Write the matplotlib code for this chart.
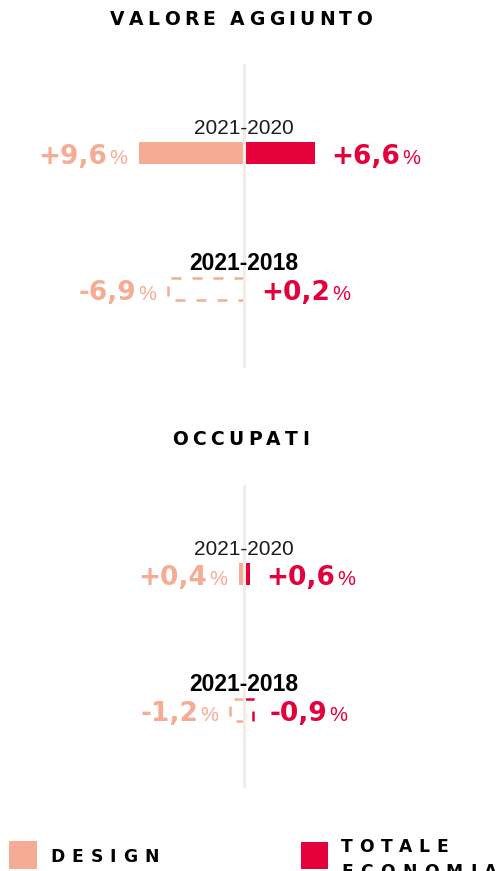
import matplotlib
matplotlib.use("Agg")
import matplotlib.pyplot as plt
from matplotlib.patches import Rectangle
from matplotlib import font_manager
from matplotlib.ft2font import FT2Font

# ---------------- data ----------------
periods = ["2021-2020", "2021-2018"]
valore_design = [9.6, -6.9]
valore_totale = [6.6, 0.2]
occupati_design = [0.4, -1.2]
occupati_totale = [0.6, -0.9]
section_titles = ["VALORE AGGIUNTO", "OCCUPATI"]
legend_labels = ["DESIGN", "TOTALE\nECONOMIA"]

# ---------------- style ----------------
C_DESIGN = "#f6ac94"
C_TOT = "#e4003a"
C_AXIS = "#f3ebe6"
FONT = "Liberation Sans"
WIDE = "DejaVu Sans"

W, H, DPI = 496, 871, 100
PX = 10.9          # pixels per percentage point
X0 = 243.5         # pixel position of zero

fig = plt.figure(figsize=(W / DPI, H / DPI), dpi=DPI)
ax = fig.add_axes([0, 0, 1, 1])
ax.set_xlim(-X0 / PX, (W - X0) / PX)
ax.set_ylim(H, 0)
ax.axis("off")
renderer = fig.canvas.get_renderer()


def xd(px):
    return (px - X0) / PX


def fontpath(family, weight):
    return font_manager.findfont(font_manager.FontProperties(family=family, weight=weight))


def spaced(s, x_left, baseline, size, target, weight="bold", color="black", family=WIDE):
    f = FT2Font(fontpath(family, weight))
    f.set_size(size, DPI)
    adv = []
    for c in s:
        g = f.load_char(ord(c))
        adv.append(g.linearHoriAdvance / 65536.0)
    n = len(s)
    track = (target - sum(adv)) / (n - 1) if n > 1 else 0
    x = x_left
    for c, a in zip(s, adv):
        if c != " ":
            ax.text(xd(x), baseline, c, fontsize=size, fontweight=weight, family=family,
                    color=color, ha="left", va="baseline")
        x += a + track


def text_width(t):
    return t.get_window_extent(renderer=renderer).width


NUM_SIZE = 19
PCT_SIZE = 14.5


def value_label(v, bar_px, side, baseline, color):
    num = f"{v:+.1f}".replace(".", ",")
    if side == "left":
        p = ax.text(xd(bar_px - 12), baseline, "%", fontsize=PCT_SIZE, family=FONT,
                    color=color, ha="right", va="baseline")
        pw = text_width(p)
        ax.text(xd(bar_px - 12 - pw - 2), baseline, num, fontsize=NUM_SIZE, fontweight="bold",
                family=WIDE, color=color, ha="right", va="baseline")
    else:
        t = ax.text(xd(bar_px + 16), baseline, num, fontsize=NUM_SIZE, fontweight="bold",
                    family=WIDE, color=color, ha="left", va="baseline")
        tw = text_width(t)
        ax.text(xd(bar_px + 16 + tw + 2), baseline, "%", fontsize=PCT_SIZE, family=FONT,
                color=color, ha="left", va="baseline")


DASH = (0, (4, 4.4))


def draw_pair(yc, d, t, period, period_base, bold_period):
    h = 22
    # design bar (always to the left)
    if d >= 0:
        ax.barh(yc, -abs(d), left=0, height=h, color=C_DESIGN, zorder=2)
    else:
        ax.barh(yc, -abs(d), left=0, height=h, fill=False, edgecolor=C_DESIGN,
                linewidth=1.8, linestyle=DASH, zorder=2)
    # totale bar (always to the right)
    if t >= 0:
        ax.barh(yc, abs(t), left=0, height=h, color=C_TOT, zorder=2)
    else:
        ax.barh(yc, abs(t), left=0, height=h, fill=False, edgecolor=C_TOT,
                linewidth=1.8, linestyle=DASH, zorder=2)
    base = yc + 11
    value_label(d, X0 - abs(d) * PX, "left", base, C_DESIGN)
    value_label(t, X0 + abs(t) * PX, "right", base, C_TOT)
    ax.text(0, period_base, period, fontsize=16.5 if bold_period else 15,
            fontweight="bold" if bold_period else "normal", family=FONT,
            color="black" if bold_period else "#1c1c1c", ha="center", va="baseline")


# ---------------- section 1: valore aggiunto ----------------
spaced(section_titles[0], 110, 25, 13.5, 262)
ax.plot([0, 0], [64, 367], color=C_AXIS, lw=2.2, zorder=3, solid_capstyle="butt")
draw_pair(153, valore_design[0], valore_totale[0], periods[0], 134, False)
draw_pair(289, valore_design[1], valore_totale[1], periods[1], 270, True)

# ---------------- section 2: occupati ----------------
spaced(section_titles[1], 172, 445, 13.5, 137)
ax.plot([0, 0], [485, 787], color=C_AXIS, lw=2.2, zorder=3, solid_capstyle="butt")
draw_pair(574, occupati_design[0], occupati_totale[0], periods[0], 555, False)
draw_pair(710, occupati_design[1], occupati_totale[1], periods[1], 691, True)

# ---------------- legend ----------------
ax.add_patch(Rectangle((xd(9), 841), 28 / PX, 28, color=C_DESIGN, lw=0))
ax.add_patch(Rectangle((xd(301), 842), 27 / PX, 27, color=C_TOT, lw=0))
spaced(legend_labels[0], 50, 862, 12.3, 109)
tl1, tl2 = legend_labels[1].split("\n")
spaced(tl1, 341, 852, 12.3, 107)
spaced(tl2, 341, 877, 12.3, 156)

fig.savefig("out.png", dpi=DPI)
